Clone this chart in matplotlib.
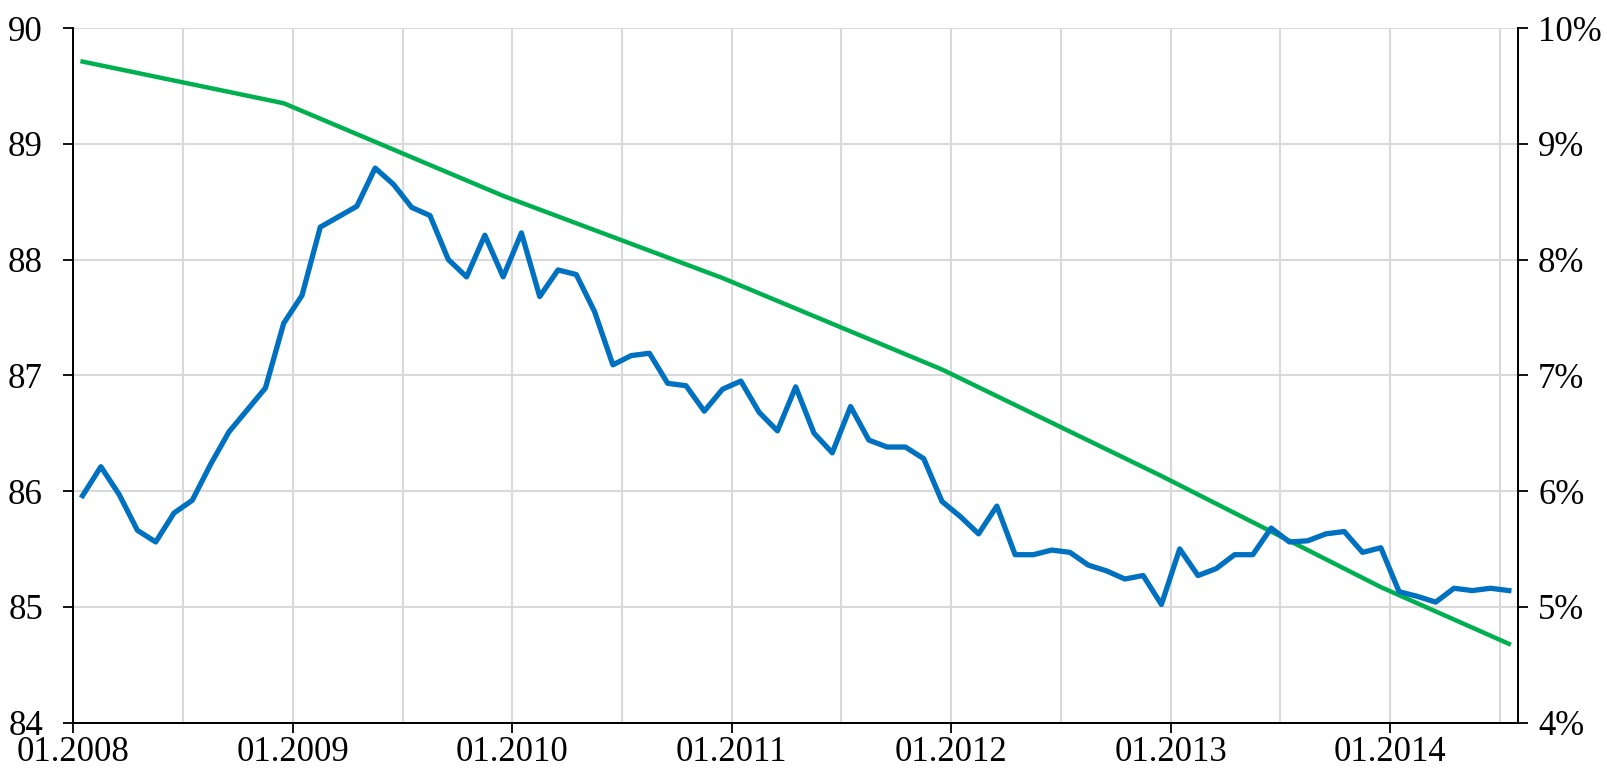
import numpy as np
import matplotlib.pyplot as plt
from matplotlib.ticker import MultipleLocator, FixedLocator

plt.rcParams['font.family'] = ['Liberation Serif', 'DejaVu Serif']
plt.rcParams['font.size'] = 25

# monthly index, starting 01.2008 (left axis)
start_month = '01.2008'
index_values = [
    85.96, 86.21, 85.97, 85.66, 85.56, 85.81, 85.92, 86.23, 86.51, 86.70, 86.89, 87.45,
    87.69, 88.28, 88.37, 88.46, 88.79, 88.65, 88.45, 88.38, 88.00, 87.85, 88.21, 87.85,
    88.23, 87.68, 87.91, 87.87, 87.55, 87.09, 87.17, 87.19, 86.93, 86.91, 86.69, 86.88,
    86.95, 86.68, 86.52, 86.90, 86.50, 86.33, 86.73, 86.44, 86.38, 86.38, 86.28, 85.91,
    85.78, 85.63, 85.87, 85.45, 85.45, 85.49, 85.47, 85.36, 85.31, 85.24, 85.27, 85.02,
    85.50, 85.27, 85.33, 85.45, 85.45, 85.68, 85.56, 85.57, 85.63, 85.65, 85.47, 85.51,
    85.13, 85.09, 85.04, 85.16, 85.14, 85.16, 85.14,
]

# rate, percent (right axis)
rate_dates = ['01.2008', '12.2008', '12.2009', '12.2010', '12.2011', '12.2012', '12.2013', '07.2014']
rate_values = [9.71, 9.35, 8.55, 7.84, 7.05, 6.13, 5.17, 4.68]

year_labels = ['01.2008', '01.2009', '01.2010', '01.2011', '01.2012', '01.2013', '01.2014']


def month_pos(label):
    # months since start_month, points sit in the middle of their month
    m, y = label.split('.')
    m0, y0 = start_month.split('.')
    return (int(y) - int(y0)) * 12 + (int(m) - int(m0)) + 0.5


def tick_pos(label):
    return month_pos(label) - 0.5


blue = '#0070C0'
green = '#00B050'
grid_c = '#d9d9d9'

fig = plt.figure(figsize=(16.07, 7.74), dpi=100)
ax = fig.add_axes([0.0457, 0.0665, 0.8989, 0.8973])
ax2 = ax.twinx()

# blue on top, grid on the lower (twin) axes
ax.set_zorder(2)
ax2.set_zorder(1)
ax.patch.set_visible(False)

x_idx = np.arange(len(index_values)) + 0.5
ax.plot(x_idx, index_values, color=blue, lw=3.8)
ax2.plot([month_pos(d) for d in rate_dates], rate_values, color=green, lw=3.2)

n_months = len(index_values)
ax.set_xlim(0, n_months)
ax.set_ylim(84, 90)
ax2.set_ylim(4, 10)

ax.xaxis.set_major_locator(FixedLocator([tick_pos(l) for l in year_labels]))
ax.set_xticklabels(year_labels)
ax.xaxis.set_minor_locator(MultipleLocator(6))
ax.yaxis.set_major_locator(MultipleLocator(1))
ax2.yaxis.set_major_locator(FixedLocator(range(4, 11)))
ax2.set_yticklabels(['%d%%' % v for v in range(4, 11)])

# grid on the twin axes, so the lines sit above it
ax2.xaxis.set_visible(True)
ax2.grid(True, axis='y', color=grid_c, lw=1.5)
ax2.grid(True, axis='x', which='both', color=grid_c, lw=1.5)
ax2.set_axisbelow(True)

for a in (ax, ax2):
    a.spines['top'].set_visible(False)
    for s in ('left', 'bottom', 'right'):
        a.spines[s].set_linewidth(1.3)
        a.spines[s].set_color('black')

ax.tick_params(axis='y', direction='out', length=7, width=1.3, pad=15)
ax.tick_params(axis='x', which='major', direction='out', length=7, width=1.3, pad=2.5)
ax.tick_params(axis='x', which='minor', length=0)
ax2.tick_params(axis='y', direction='out', length=7.5, width=1.3, pad=7)
ax2.tick_params(axis='x', which='both', length=0, labelbottom=False, labeltop=False)

fig.savefig('out.png', dpi=100)
